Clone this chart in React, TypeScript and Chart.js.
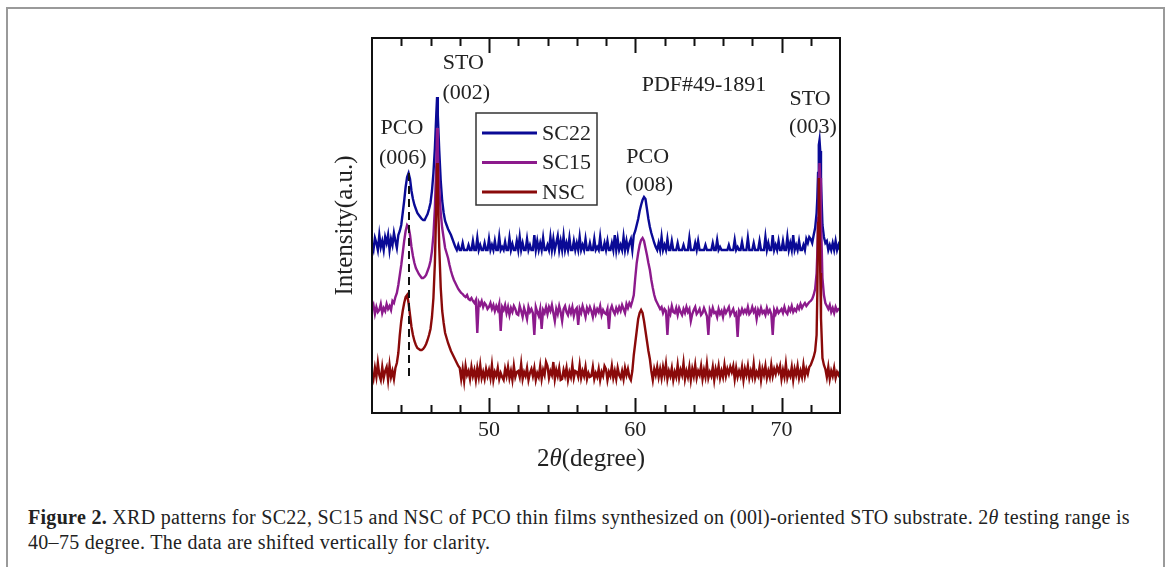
import React, { useEffect, useRef } from "react";
import { Chart, registerables } from "chart.js";

Chart.register(...registerables);

// 2θ sampling (degree), one row per degree
const twoTheta = [
  42.0, 42.1, 42.2, 42.3, 42.4, 42.5, 42.6, 42.7, 42.8, 42.9,
  43.0, 43.1, 43.2, 43.3, 43.4, 43.5, 43.6, 43.7, 43.8, 43.9,
  44.0, 44.1, 44.2, 44.3, 44.4, 44.5, 44.6, 44.7, 44.8, 44.9,
  45.0, 45.1, 45.2, 45.3, 45.4, 45.5, 45.6, 45.7, 45.8, 45.9,
  46.0, 46.1, 46.2, 46.3, 46.4, 46.45, 46.5, 46.6, 46.7, 46.8, 46.9,
  47.0, 47.1, 47.2, 47.3, 47.4, 47.5, 47.6, 47.7, 47.8, 47.9,
  48.0, 48.1, 48.2, 48.3, 48.4, 48.5, 48.6, 48.7, 48.8, 48.9,
  49.0, 49.1, 49.2, 49.3, 49.4, 49.5, 49.6, 49.7, 49.8, 49.9,
  50.0, 50.1, 50.2, 50.3, 50.4, 50.5, 50.6, 50.7, 50.8, 50.9,
  51.0, 51.1, 51.2, 51.3, 51.4, 51.5, 51.6, 51.7, 51.8, 51.9,
  52.0, 52.1, 52.2, 52.3, 52.4, 52.5, 52.6, 52.7, 52.8, 52.9,
  53.0, 53.1, 53.2, 53.3, 53.4, 53.5, 53.6, 53.7, 53.8, 53.9,
  54.0, 54.1, 54.2, 54.3, 54.4, 54.5, 54.6, 54.7, 54.8, 54.9,
  55.0, 55.1, 55.2, 55.3, 55.4, 55.5, 55.6, 55.7, 55.8, 55.9,
  56.0, 56.1, 56.2, 56.3, 56.4, 56.5, 56.6, 56.7, 56.8, 56.9,
  57.0, 57.1, 57.2, 57.3, 57.4, 57.5, 57.6, 57.7, 57.8, 57.9,
  58.0, 58.1, 58.2, 58.3, 58.4, 58.5, 58.6, 58.7, 58.8, 58.9,
  59.0, 59.1, 59.2, 59.3, 59.4, 59.5, 59.6, 59.7, 59.8, 59.9,
  60.0, 60.1, 60.2, 60.3, 60.4, 60.5, 60.6, 60.7, 60.8, 60.9,
  61.0, 61.1, 61.2, 61.3, 61.4, 61.5, 61.6, 61.7, 61.8, 61.9,
  62.0, 62.1, 62.2, 62.3, 62.4, 62.5, 62.6, 62.7, 62.8, 62.9,
  63.0, 63.1, 63.2, 63.3, 63.4, 63.5, 63.6, 63.7, 63.8, 63.9,
  64.0, 64.1, 64.2, 64.3, 64.4, 64.5, 64.6, 64.7, 64.8, 64.9,
  65.0, 65.1, 65.2, 65.3, 65.4, 65.5, 65.6, 65.7, 65.8, 65.9,
  66.0, 66.1, 66.2, 66.3, 66.4, 66.5, 66.6, 66.7, 66.8, 66.9,
  67.0, 67.1, 67.2, 67.3, 67.4, 67.5, 67.6, 67.7, 67.8, 67.9,
  68.0, 68.1, 68.2, 68.3, 68.4, 68.5, 68.6, 68.7, 68.8, 68.9,
  69.0, 69.1, 69.2, 69.3, 69.4, 69.5, 69.6, 69.7, 69.8, 69.9,
  70.0, 70.1, 70.2, 70.3, 70.4, 70.5, 70.6, 70.7, 70.8, 70.9,
  71.0, 71.1, 71.2, 71.3, 71.4, 71.5, 71.6, 71.7, 71.8, 71.9,
  72.0, 72.1, 72.2, 72.3, 72.4, 72.45, 72.5, 72.55, 72.6, 72.65, 72.7, 72.8, 72.9,
  73.0, 73.1, 73.2, 73.3, 73.4, 73.5, 73.6, 73.7, 73.8, 73.9,
  74.0,
];

// SC22 (shifted up)
const sc22 = [
  168, 163, 175, 170, 163, 178, 166, 172, 163, 176,
  170, 178, 163, 174, 168, 180, 172, 165, 178, 182,
  188, 200, 212, 226, 236, 240, 234, 222, 214, 208,
  204, 200, 198, 196, 194, 193, 193, 196, 199, 204,
  210, 222, 240, 265, 300, 316, 298, 262, 232, 212, 200,
  192, 188, 184, 181, 178, 174, 170, 166, 163, 168,
  163, 163, 170, 163, 163, 163, 168, 163, 163, 172,
  163, 163, 175, 163, 168, 163, 163, 170, 163, 163,
  174, 163, 168, 163, 172, 163, 163, 176, 163, 166,
  163, 171, 163, 163, 175, 163, 169, 163, 163, 172,
  163, 176, 163, 170, 163, 163, 174, 163, 168, 163,
  163, 178, 163, 172, 163, 170, 163, 175, 163, 163,
  168, 163, 176, 163, 174, 163, 170, 177, 163, 172,
  163, 177, 163, 170, 163, 175, 163, 163, 172, 163,
  170, 163, 176, 163, 168, 163, 174, 163, 163, 170,
  163, 163, 174, 163, 166, 163, 176, 163, 163, 170,
  163, 172, 163, 163, 170, 163, 178, 163, 174, 163,
  168, 163, 176, 163, 172, 163, 170, 174, 163, 178,
  182, 188, 194, 202, 208, 213, 216, 214, 204, 194,
  186, 180, 175, 170, 166, 163, 170, 163, 176, 163,
  168, 163, 174, 163, 163, 172, 163, 163, 163, 170,
  163, 163, 163, 168, 163, 163, 163, 175, 163, 163,
  163, 170, 163, 172, 163, 163, 163, 163, 168, 163,
  163, 163, 163, 170, 163, 163, 173, 163, 166, 163,
  163, 163, 163, 163, 168, 163, 163, 163, 173, 163,
  166, 163, 163, 171, 163, 163, 163, 175, 163, 163,
  163, 170, 163, 163, 163, 172, 163, 163, 163, 176,
  163, 170, 163, 163, 178, 163, 168, 163, 172, 163,
  163, 172, 163, 163, 176, 163, 170, 163, 178, 163,
  168, 163, 172, 163, 163, 168, 163, 174, 170, 176,
  174, 170, 178, 185, 200, 215, 240, 268, 273, 262, 232, 188, 176,
  170, 172, 163, 168, 163, 170, 163, 172, 163, 168,
  163,
];

// SC15 (shifted up)
const sc15 = [
  104, 108, 99, 106, 101, 103, 109, 100, 105, 102,
  109, 104, 107, 103, 112, 110, 116, 120, 128, 138,
  148, 160, 172, 182, 188, 186, 178, 166, 157, 150,
  145, 142, 139, 137, 135, 135, 136, 138, 142, 146,
  152, 162, 178, 205, 250, 285, 262, 225, 200, 185, 175,
  165, 160, 155, 148, 142, 137, 133, 130, 127, 124,
  122, 120, 119, 117, 116, 118, 114, 113, 115, 112,
  110, 113, 80, 111, 108, 112, 106, 110, 108, 104,
  106, 110, 104, 108, 102, 107, 103, 109, 82, 106,
  103, 108, 100, 106, 98, 105, 101, 107, 104, 99,
  98, 107, 102, 96, 105, 100, 94, 106, 101, 104,
  100, 78, 106, 101, 97, 104, 84, 103, 100, 106,
  99, 106, 102, 108, 100, 92, 104, 99, 107, 101,
  92, 104, 107, 101, 98, 105, 100, 106, 97, 103,
  105, 88, 104, 100, 107, 102, 96, 105, 101, 106,
  102, 96, 105, 99, 104, 101, 107, 98, 103, 100,
  99, 104, 84, 103, 107, 102, 99, 105, 101, 106,
  102, 108, 104, 100, 109, 105, 110, 107, 112, 118,
  135, 150, 160, 168, 173, 175, 172, 165, 158, 150,
  143, 133, 125, 118, 113, 110, 107, 104, 106, 100,
  104, 102, 78, 103, 99, 107, 101, 100, 105, 98,
  105, 101, 98, 104, 100, 106, 101, 104, 92, 99,
  103, 106, 99, 101, 104, 98, 100, 105, 101, 97,
  78, 103, 99, 105, 100, 101, 96, 104, 99, 102,
  96, 104, 100, 103, 106, 98, 101, 104, 98, 100,
  76, 102, 99, 104, 100, 103, 100, 106, 99, 101,
  106, 101, 104, 94, 103, 99, 105, 100, 102, 98,
  105, 100, 103, 99, 78, 103, 99, 104, 100, 102,
  104, 100, 106, 101, 99, 105, 102, 107, 101, 104,
  102, 107, 104, 109, 105, 108, 110, 107, 109, 111,
  112, 114, 118, 124, 140, 160, 195, 235, 250, 235, 195, 135, 118,
  110, 107, 104, 108, 101, 105, 100, 106, 102, 104,
  104,
];

// NSC
const nsc = [
  40, 34, 45, 36, 50, 38, 33, 46, 35, 42,
  46, 33, 48, 36, 42, 34, 45, 50, 60, 78,
  92, 102, 110, 116, 118, 110, 98, 86, 78, 72,
  68, 65, 64, 63, 63, 64, 66, 69, 73, 78,
  84, 96, 115, 150, 210, 250, 225, 165, 125, 102, 90,
  80, 75, 70, 66, 62, 59, 56, 53, 50, 47,
  45, 34, 44, 32, 47, 38, 42, 34, 46, 37,
  43, 33, 45, 36, 48, 35, 41, 34, 44, 37,
  43, 35, 48, 33, 41, 37, 45, 34, 40, 36,
  33, 44, 37, 46, 35, 42, 33, 47, 36, 41,
  42, 36, 49, 34, 41, 37, 45, 33, 40, 44,
  37, 45, 33, 40, 36, 47, 34, 43, 38, 51,
  47, 35, 42, 38, 51, 34, 43, 37, 45, 33,
  34, 43, 37, 45, 33, 41, 36, 48, 35, 42,
  41, 36, 48, 35, 42, 37, 46, 34, 40, 36,
  37, 46, 34, 40, 36, 44, 33, 41, 37, 47,
  44, 33, 41, 37, 47, 35, 42, 34, 45, 38,
  35, 42, 34, 45, 38, 44, 36, 33, 42, 58,
  70, 82, 94, 100, 103, 100, 92, 82, 72, 62,
  54, 42, 33, 44, 38, 46, 36, 44, 35, 46,
  38, 49, 34, 42, 37, 45, 33, 41, 36, 48,
  35, 43, 38, 50, 34, 42, 36, 46, 33, 44,
  37, 48, 35, 42, 38, 47, 34, 43, 36, 49,
  35, 41, 37, 46, 33, 44, 38, 47, 35, 42,
  36, 48, 37, 44, 39, 46, 41, 47, 34, 45,
  36, 42, 37, 46, 33, 44, 38, 47, 35, 42,
  36, 49, 35, 41, 37, 46, 33, 44, 38, 47,
  35, 42, 36, 48, 37, 44, 39, 46, 41, 47,
  34, 43, 36, 49, 35, 41, 37, 46, 33, 44,
  38, 47, 35, 42, 36, 48, 37, 44, 39, 46,
  48, 52, 56, 62, 78, 120, 190, 235, 200, 140, 95, 55, 48,
  44, 36, 46, 34, 42, 37, 45, 35, 41, 38,
  42,
];

const seriesLabels = ["SC22", "SC15", "NSC"];
const seriesColors = ["#0a0a96", "#8c1a8c", "#8a0a0a"];
const xTickLabels = [50, 60, 70];
const referenceLine = { x: 44.53, from: 240, to: 35 };

const annotations = [
  { text: "PCO", x: 44.05, y: 285 },
  { text: "(006)", x: 44.1, y: 255 },
  { text: "STO", x: 48.25, y: 350 },
  { text: "(002)", x: 48.45, y: 320 },
  { text: "PDF#49-1891", x: 64.7, y: 328 },
  { text: "PCO", x: 60.85, y: 256 },
  { text: "(008)", x: 60.95, y: 228 },
  { text: "STO", x: 71.95, y: 314 },
  { text: "(003)", x: 72.15, y: 286 },
];

const SERIF = "'Liberation Serif', 'Times New Roman', serif";

const decorPlugin = {
  id: "decor",
  afterDatasetsDraw(chart: any) {
    const { ctx, chartArea: ca, scales } = chart;
    const xs = scales.x;
    const ys = scales.y;
    ctx.save();
    // frame
    ctx.strokeStyle = "#111";
    ctx.lineWidth = 2;
    ctx.strokeRect(ca.left, ca.top, ca.right - ca.left, ca.bottom - ca.top);
    // inward ticks
    for (let v = 44; v < 74; v += 2) {
      const px = Math.round(xs.getPixelForValue(v)) + 0.5;
      const len = v % 10 === 0 ? 15 : 8;
      ctx.beginPath();
      ctx.moveTo(px, ca.bottom);
      ctx.lineTo(px, ca.bottom - len);
      ctx.moveTo(px, ca.top);
      ctx.lineTo(px, ca.top + len);
      ctx.stroke();
    }
    // annotations
    ctx.fillStyle = "#222";
    ctx.font = `22px ${SERIF}`;
    ctx.textAlign = "center";
    ctx.textBaseline = "middle";
    annotations.forEach((a) => {
      ctx.fillText(a.text, xs.getPixelForValue(a.x), ys.getPixelForValue(a.y));
    });
    // legend
    const lx = ca.left + 104;
    const ly = ca.top + 75;
    ctx.strokeStyle = "#333";
    ctx.lineWidth = 1.5;
    ctx.strokeRect(lx, ly, 121, 92);
    ctx.textAlign = "left";
    seriesLabels.forEach((lab, i) => {
      const yy = ly + 20 + i * 29.5;
      ctx.strokeStyle = seriesColors[i];
      ctx.lineWidth = 3;
      ctx.beginPath();
      ctx.moveTo(lx + 6, yy);
      ctx.lineTo(lx + 61, yy);
      ctx.stroke();
      ctx.fillStyle = "#222";
      ctx.fillText(lab, lx + 66, yy + 1);
    });
    // x title: 2θ(degree)
    const parts = [
      { t: "2", f: `25px ${SERIF}` },
      { t: "θ", f: `italic 25px ${SERIF}` },
      { t: "(degree)", f: `25px ${SERIF}` },
    ];
    let total = 0;
    parts.forEach((p) => {
      ctx.font = p.f;
      total += ctx.measureText(p.t).width;
    });
    let cx = ca.left + 219 - total / 2;
    const ty = ca.bottom + 46;
    ctx.textAlign = "left";
    ctx.fillStyle = "#222";
    parts.forEach((p) => {
      ctx.font = p.f;
      ctx.fillText(p.t, cx, ty);
      cx += ctx.measureText(p.t).width;
    });
    ctx.restore();
  },
};

export default function App() {
  const ref = useRef<HTMLCanvasElement | null>(null);

  useEffect(() => {
    document.body.style.margin = "0";
    const canvas = ref.current;
    if (!canvas) return;
    const mk = (vals: number[]) => twoTheta.map((t, i) => ({ x: t, y: vals[i] }));
    const chart = new Chart(canvas, {
      type: "line",
      data: {
        datasets: [
          {
            label: "reference",
            data: [
              { x: referenceLine.x, y: referenceLine.from },
              { x: referenceLine.x, y: referenceLine.to },
            ],
            borderColor: "#111",
            borderWidth: 2,
            borderDash: [8, 5],
            pointRadius: 0,
            order: 0,
          },
          {
            label: seriesLabels[2],
            data: mk(nsc),
            borderColor: seriesColors[2],
            borderWidth: 2.4,
            pointRadius: 0,
            order: 1,
          },
          {
            label: seriesLabels[1],
            data: mk(sc15),
            borderColor: seriesColors[1],
            borderWidth: 2.4,
            pointRadius: 0,
            order: 2,
          },
          {
            label: seriesLabels[0],
            data: mk(sc22),
            borderColor: seriesColors[0],
            borderWidth: 2.4,
            pointRadius: 0,
            order: 3,
          },
        ],
      },
      options: {
        responsive: false,
        animation: false,
        devicePixelRatio: 1,
        layout: { padding: { left: 312, right: 328, top: 38, bottom: 0 } },
        plugins: { legend: { display: false }, tooltip: { enabled: false } },
        scales: {
          x: {
            type: "linear",
            min: 42,
            max: 74,
            afterFit: (s: any) => {
              s.height = 67;
            },
            grid: { display: false, drawTicks: false },
            border: { display: false },
            ticks: {
              stepSize: 2,
              autoSkip: false,
              maxRotation: 0,
              padding: 4,
              color: "#222",
              font: { family: SERIF, size: 22 },
              callback: (v: any) => (xTickLabels.includes(Number(v)) ? String(v) : ""),
            },
            title: { display: false },
          },
          y: {
            min: 0,
            max: 375,
            afterFit: (s: any) => {
              s.width = 60;
            },
            grid: { display: false, drawTicks: false },
            border: { display: false },
            ticks: { display: false },
            title: {
              display: true,
              text: "Intensity(a.u.)",
              color: "#222",
              font: { family: SERIF, size: 25 },
              padding: { top: 18, bottom: 0 },
            },
          },
        },
      },
      plugins: [decorPlugin],
    });
    return () => chart.destroy();
  }, []);

  return (
    <div style={{ position: "fixed", left: 0, top: 0, width: 1168, height: 567, overflow: "hidden", background: "#fff" }}>
      <div
        style={{
          position: "absolute",
          left: 6,
          top: 7,
          width: 1155,
          height: 640,
          border: "2px solid #9a9a9a",
        }}
      />
      <canvas ref={ref} width={1168} height={480} style={{ position: "absolute", left: 0, top: 0 }} />
      <div
        style={{
          position: "absolute",
          left: 28,
          top: 505,
          fontFamily: SERIF,
          fontSize: 20,
          letterSpacing: "0.3px",
          lineHeight: "25px",
          color: "#222",
          whiteSpace: "nowrap",
        }}
      >
        <b>Figure 2.</b> XRD patterns for SC22, SC15 and NSC of PCO thin films synthesized on (00l)-oriented STO substrate. 2<i>θ</i> testing range is
        <br />
        40–75 degree. The data are shifted vertically for clarity.
      </div>
    </div>
  );
}
